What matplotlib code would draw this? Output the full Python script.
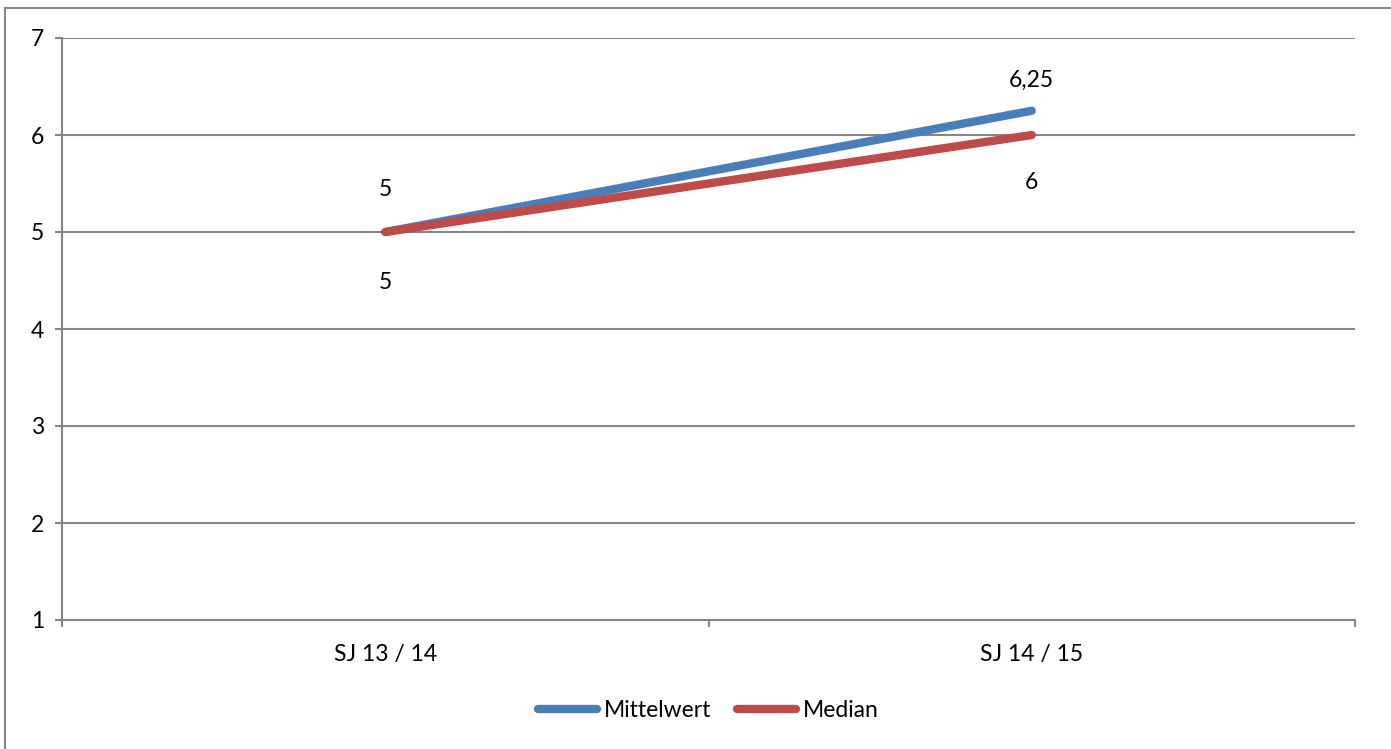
import matplotlib.pyplot as plt
from matplotlib.patches import Rectangle

# Data
categories = ["SJ 13 / 14", "SJ 14 / 15"]
mittelwert = [5, 6.25]
median = [5, 6]
mittelwert_labels = ["5", "6,25"]
median_labels = ["5", "6"]

BLUE = "#4A7EBB"
RED = "#BE4B48"
GRID = "#868686"
FS = 16.5
LW = 6

plt.rcParams["font.family"] = ["Lato", "DejaVu Sans"]

fig = plt.figure(figsize=(13.91, 7.49), dpi=100)
ax = fig.add_axes([62 / 1391, 1 - 620 / 749, 1293 / 1391, 582 / 749])

# Outer chart border
fig.patches.append(Rectangle((5 / 1391, -0.05), 1.1, 1 - 8 / 749 + 0.05,
                             transform=fig.transFigure, fill=False,
                             edgecolor=GRID, lw=1.5))

x = list(range(len(categories)))
ax.plot(x, mittelwert, color=BLUE, lw=LW, solid_capstyle="round",
        label="Mittelwert", zorder=3)
ax.plot(x, median, color=RED, lw=LW, solid_capstyle="round",
        label="Median", zorder=4)

# data labels (baseline offsets in points, as placed by Excel)
for xi, v, t, off in zip(x, mittelwert, mittelwert_labels, [26, 17]):
    ax.annotate(t, (xi, v), xytext=(0, off), textcoords="offset points",
                ha="center", va="baseline", fontsize=FS)
for xi, v, t, off in zip(x, median, median_labels, [-41, -39]):
    ax.annotate(t, (xi, v), xytext=(0, off), textcoords="offset points",
                ha="center", va="baseline", fontsize=FS)

ax.set_xlim(-0.5, len(categories) - 0.5)
ax.set_ylim(1, 7)
ax.set_yticks(range(1, 8))
ax.set_xticks(x)
ax.set_xticklabels(categories, fontsize=FS)
ax.set_xticks([-0.5, 0.5, 1.5], minor=True)
ax.tick_params(axis="x", which="major", length=0, pad=17)
ax.tick_params(axis="x", which="minor", length=5, width=1.5, color=GRID, direction="out")
ax.tick_params(axis="y", length=5, width=1.5, color=GRID, labelsize=FS, pad=8)

ax.grid(axis="y", color=GRID, lw=1.5)
ax.set_axisbelow(True)
for s in ["top", "right"]:
    ax.spines[s].set_visible(False)
for s in ["left", "bottom"]:
    ax.spines[s].set_color(GRID)
    ax.spines[s].set_linewidth(1.5)

ax.legend(loc="center", bbox_to_anchor=(0.5, -0.155), ncol=2, frameon=False,
          fontsize=FS, handlelength=2.6, handletextpad=0.3, columnspacing=1.1)

fig.savefig("out.png", dpi=100)
